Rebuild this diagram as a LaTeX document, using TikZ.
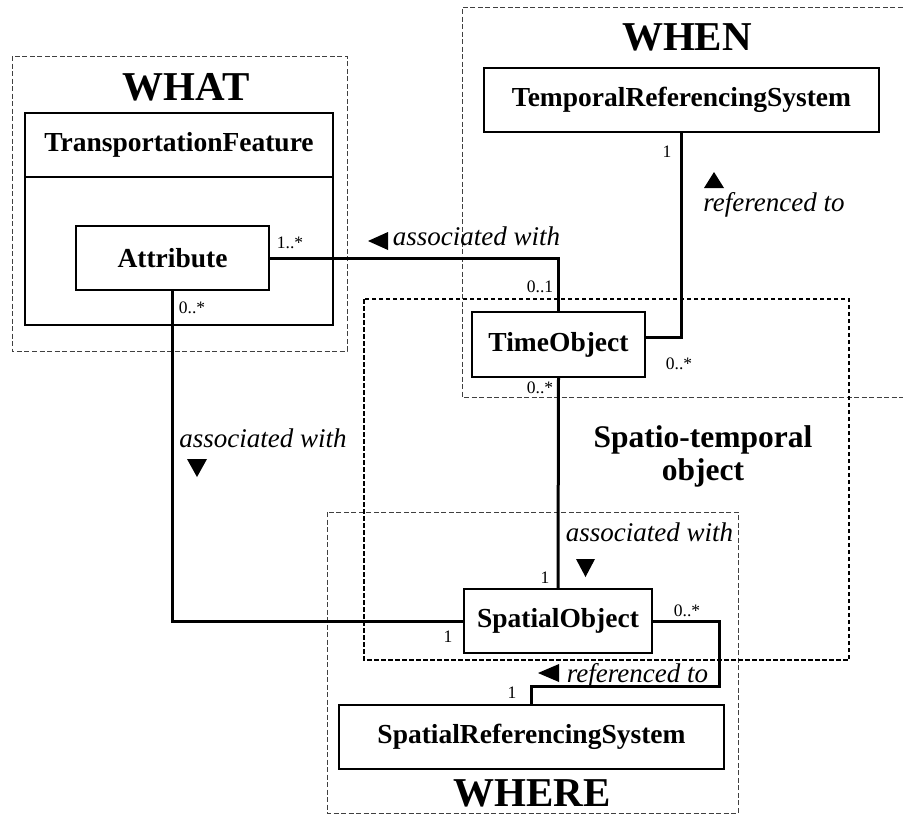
\documentclass[tikz,border=0pt]{standalone}
\usepackage{fontspec}
\setmainfont{Liberation Serif}
\usetikzlibrary{positioning}

\tikzset{
  classbox/.style={draw, fill=white, line width=1.3pt, inner sep=0pt,
    font=\fontsize{27.5}{30}\selectfont\bfseries},
  assoc/.style={line width=3pt},
  mult/.style={inner sep=0pt, font=\fontsize{17.5}{19}\selectfont},
  role/.style={inner sep=0pt, anchor=base, font=\fontsize{27}{30}\selectfont\itshape},
  zone/.style={line width=1pt, black!75, dash pattern=on 5pt off 2.5pt},
  stzone/.style={line width=2.6pt, dash pattern=on 4.5pt off 2.5pt},
  zonetitle/.style={inner sep=0pt, anchor=base, font=\fontsize{41}{44}\selectfont\bfseries},
}

\begin{document}
\begin{tikzpicture}[x=1pt,y=-1pt]
\useasboundingbox (0,0) rectangle (903,815);

% the three zones and the spatio-temporal frame
\draw[zone] (12,56) rectangle (347,351);
\draw[zone] (910,7) -- (462,7) -- (462,397) -- (910,397);
\draw[zone] (327,512) rectangle (738,813);
\draw[stzone] (364,299) rectangle (849,660);

\node[zonetitle] (what) at (186,100) {WHAT};
\node[zonetitle] (when) at (687,50) {WHEN};
\node[zonetitle] (where) at (532,806) {WHERE};
\node[inner sep=0pt, align=center, font=\fontsize{31.5}{33}\selectfont\bfseries]
  (stobject) at (703,456) {Spatio-temporal\\object};

% classes
\node[classbox, minimum width=308pt, minimum height=212pt] (feature) at (179,219) {};
\node[classbox, draw=none, fill=none] (featurename) at (179,145) {TransportationFeature};
\draw[line width=1.3pt] (feature.west |- 0,177) -- (feature.east |- 0,177);
\node[classbox, minimum width=193pt, minimum height=64pt] (attribute) at (172.5,258) {Attribute};
\node[classbox, minimum width=395pt, minimum height=64pt] (temporalrs) at (681.5,100) {TemporalReferencingSystem};
\node[classbox, minimum width=173pt, minimum height=65pt] (timeobject) at (558.5,344.5) {TimeObject};
\node[classbox, minimum width=188pt, minimum height=64pt] (spatialobject) at (558,621) {SpatialObject};
\node[classbox, minimum width=385pt, minimum height=64pt] (spatialrs) at (531.5,737) {SpatialReferencingSystem};

% associations
\coordinate (bend) at (719,686);
\draw[assoc] (attribute.east) -| (timeobject.north);
\draw[assoc] (temporalrs.south) |- ([yshift=7pt]timeobject.east);
\draw[assoc] (timeobject.south) -- (spatialobject.north);
\draw[assoc] (attribute.south) |- (spatialobject.west);
\draw[assoc] (spatialobject.east) -| (bend) -| (spatialrs.north);

% multiplicities
\node[mult] (attrtime) at (290,243) {1..*};
\node[mult] (timeattr) at (540,287) {0..1};
\node[mult] (attrspace) at (192,308) {0..*};
\node[mult] (trstime) at (667,152) {1};
\node[mult] (timetrs) at (679,364) {0..*};
\node[mult] (timespace) at (540,388) {0..*};
\node[mult] (spacetime) at (545,578) {1};
\node[mult] (spaceattr) at (448,637) {1};
\node[mult] (spacesrs) at (687,611) {0..*};
\node[mult] (srsspace) at (512,693) {1};

% role names with direction marks
\node[role] (assoctop) at (476.5,245) {associated with};
\fill (368,241) -- (388,232) -- (388,250) -- cycle;
\node[role] (reftime) at (774,211) {referenced to};
\fill (714,172) -- (724,188) -- (704,188) -- cycle;
\node[role] (assocleft) at (263,447) {associated with};
\fill (187,459) -- (207,459) -- (197,477) -- cycle;
\node[role] (assocmid) at (649.5,541) {associated with};
\fill (576,559) -- (595,559) -- (585.5,577) -- cycle;
\node[role] (refspace) at (637.5,682) {referenced to};
\fill (538,673) -- (559,664) -- (559,682) -- cycle;
\end{tikzpicture}
\end{document}
